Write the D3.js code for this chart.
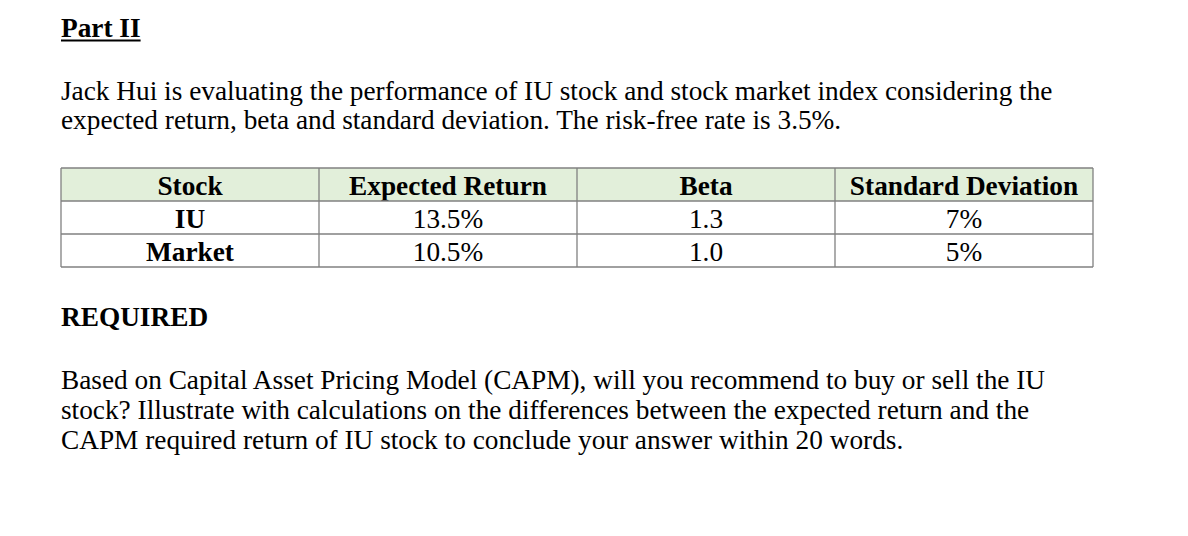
<!DOCTYPE html>
<html>
<head>
<meta charset="utf-8">
<script src="https://cdn.jsdelivr.net/npm/d3@7"></script>
<style>
  html, body { margin: 0; padding: 0; background: #ffffff; }
  svg { display: block; }
  text { font-family: "Liberation Serif", "Times New Roman", serif; fill: #000; }
</style>
</head>
<body>
<svg id="chart" width="1188" height="536"></svg>
<script>
// ---- data ----
const title = "Part II";
const introLines = [
  "Jack Hui is evaluating the performance of IU stock and stock market index considering the",
  "expected return, beta and standard deviation. The risk-free rate is 3.5%."
];
const columns = ["Stock", "Expected Return", "Beta", "Standard Deviation"];
const stocks = ["IU", "Market"];
const expectedReturn = ["13.5%", "10.5%"];
const beta = ["1.3", "1.0"];
const stdDev = ["7%", "5%"];
const requiredHeading = "REQUIRED";
const requiredLines = [
  "Based on Capital Asset Pricing Model (CAPM), will you recommend to buy or sell the IU",
  "stock? Illustrate with calculations on the differences between the expected return and the",
  "CAPM required return of IU stock to conclude your answer within 20 words."
];

// ---- drawing ----
const svg = d3.select("#chart");
const left = 61;
const fs = 27.3;

// Title with underline
const t = svg.append("text")
  .attr("x", left).attr("y", 36.5)
  .attr("font-size", fs).attr("font-weight", "bold")
  .text(title);
const tw = t.node().getComputedTextLength();
svg.append("rect").attr("x", left).attr("y", 39.5).attr("width", tw).attr("height", 2).attr("fill", "#000");

// Intro paragraph
const introY = d3.scalePoint().domain(d3.range(introLines.length)).range([100, 129]);
svg.selectAll("text.intro").data(introLines).join("text")
  .attr("class", "intro")
  .attr("x", left).attr("y", (d, i) => introY(i))
  .attr("font-size", fs)
  .text(d => d);

// Table
const rowsData = [columns].concat(stocks.map((s, i) => [s, expectedReturn[i], beta[i], stdDev[i]]));
const x = d3.scaleBand().domain(d3.range(columns.length)).range([61, 1093]).padding(0);
const y = d3.scaleBand().domain(d3.range(rowsData.length)).range([168, 267]).padding(0);

const g = svg.append("g");
// header fill
g.append("rect")
  .attr("x", x.range()[0]).attr("y", y(0))
  .attr("width", x.range()[1] - x.range()[0]).attr("height", y.bandwidth())
  .attr("fill", "#e2efda");

// cell text
rowsData.forEach((row, ri) => {
  g.selectAll(null).data(row).join("text")
    .attr("x", (d, ci) => x(ci) + x.bandwidth() / 2)
    .attr("y", y(ri) + y.bandwidth() / 2 + 10)
    .attr("text-anchor", "middle")
    .attr("font-size", fs)
    .attr("font-weight", (d, ci) => (ri === 0 || ci === 0) ? "bold" : "normal")
    .text(d => d);
});

// grid lines
const stroke = "#808080";
const xs = d3.range(columns.length).map(i => x(i)).concat([x.range()[1]]);
const ys = d3.range(rowsData.length).map(i => y(i)).concat([y.range()[1]]);
g.selectAll("line.v").data(xs).join("line")
  .attr("class", "v")
  .attr("x1", d => d).attr("x2", d => d)
  .attr("y1", ys[0]).attr("y2", ys[ys.length - 1])
  .attr("stroke", stroke).attr("stroke-width", 1.3);
g.selectAll("line.h").data(ys).join("line")
  .attr("class", "h")
  .attr("x1", xs[0]).attr("x2", xs[xs.length - 1])
  .attr("y1", d => d).attr("y2", d => d)
  .attr("stroke", stroke).attr("stroke-width", 1.3);

// Required heading
svg.append("text")
  .attr("x", left).attr("y", 326)
  .attr("font-size", fs).attr("font-weight", "bold")
  .text(requiredHeading);

const reqY = d3.scalePoint().domain(d3.range(requiredLines.length)).range([389, 449]);
svg.selectAll("text.req").data(requiredLines).join("text")
  .attr("class", "req")
  .attr("x", left).attr("y", (d, i) => reqY(i))
  .attr("font-size", fs)
  .text(d => d);
</script>
</body>
</html>
